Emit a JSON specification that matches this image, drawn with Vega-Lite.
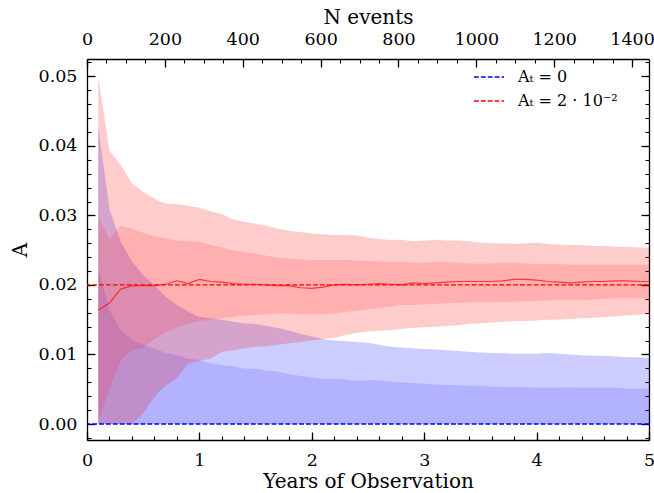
{
  "$schema": "https://vega.github.io/schema/vega-lite/v6.json",
  "width": 562,
  "height": 381,
  "autosize": {"type": "none"},
  "padding": {"left": 87, "top": 59, "right": 5, "bottom": 53},
  "background": "white",
  "config": {
    "view": {"stroke": null},
    "font": "DejaVu Serif",
    "axis": {"grid": false, "labelColor": "black", "titleColor": "black", "tickColor": "black", "domainColor": "black", "labelFont": "DejaVu Serif", "titleFont": "DejaVu Serif", "titleFontWeight": "normal", "labelFlush": false, "labelOverlap": false, "labelBound": false, "zindex": 1}
  },
  "datasets": {
    "bands": [
      {"t":0.1,"rou":0.0499,"riu":0.0298,"ril":0.0005,"rol":0,"bou":0.0427,"biu":0.0224,"rm":0.0164},
      {"t":0.2,"rou":0.0393,"riu":0.0266,"ril":0.0050,"rol":0,"bou":0.0309,"biu":0.0164,"rm":0.0174},
      {"t":0.3,"rou":0.0373,"riu":0.0285,"ril":0.0092,"rol":0,"bou":0.0262,"biu":0.0135,"rm":0.0194},
      {"t":0.4,"rou":0.0346,"riu":0.0281,"ril":0.0106,"rol":0,"bou":0.0234,"biu":0.0121,"rm":0.0199},
      {"t":0.5,"rou":0.0334,"riu":0.0275,"ril":0.0110,"rol":0.0015,"bou":0.0214,"biu":0.0114,"rm":0.0199},
      {"t":0.6,"rou":0.0324,"riu":0.0270,"ril":0.0122,"rol":0.0039,"bou":0.0200,"biu":0.0109,"rm":0.0199},
      {"t":0.7,"rou":0.0317,"riu":0.0267,"ril":0.0132,"rol":0.0055,"bou":0.0183,"biu":0.0102,"rm":0.0201},
      {"t":0.8,"rou":0.0316,"riu":0.0264,"ril":0.0139,"rol":0.0066,"bou":0.0171,"biu":0.0099,"rm":0.0206},
      {"t":0.9,"rou":0.0314,"riu":0.0263,"ril":0.0144,"rol":0.0087,"bou":0.0162,"biu":0.0094,"rm":0.0202},
      {"t":1.0,"rou":0.0311,"riu":0.0262,"ril":0.0148,"rol":0.0091,"bou":0.0154,"biu":0.0092,"rm":0.0208},
      {"t":1.1,"rou":0.0306,"riu":0.0258,"ril":0.0150,"rol":0.0094,"bou":0.0152,"biu":0.0087,"rm":0.0205},
      {"t":1.2,"rou":0.0302,"riu":0.0254,"ril":0.0152,"rol":0.0104,"bou":0.0150,"biu":0.0085,"rm":0.0204},
      {"t":1.3,"rou":0.0294,"riu":0.0250,"ril":0.0154,"rol":0.0106,"bou":0.0147,"biu":0.0083,"rm":0.0202},
      {"t":1.4,"rou":0.0291,"riu":0.0247,"ril":0.0156,"rol":0.0109,"bou":0.0145,"biu":0.0080,"rm":0.0201},
      {"t":1.5,"rou":0.0288,"riu":0.0245,"ril":0.0157,"rol":0.0111,"bou":0.0144,"biu":0.0079,"rm":0.0201},
      {"t":1.6,"rou":0.0285,"riu":0.0242,"ril":0.0158,"rol":0.0112,"bou":0.0141,"biu":0.0077,"rm":0.0200},
      {"t":1.7,"rou":0.0281,"riu":0.0239,"ril":0.0159,"rol":0.0114,"bou":0.0138,"biu":0.0075,"rm":0.0199},
      {"t":1.8,"rou":0.0278,"riu":0.0238,"ril":0.0159,"rol":0.0116,"bou":0.0134,"biu":0.0072,"rm":0.0199},
      {"t":1.9,"rou":0.0276,"riu":0.0237,"ril":0.0158,"rol":0.0118,"bou":0.0130,"biu":0.0069,"rm":0.0196},
      {"t":2.0,"rou":0.0274,"riu":0.0236,"ril":0.0158,"rol":0.0120,"bou":0.0126,"biu":0.0067,"rm":0.0195},
      {"t":2.1,"rou":0.0273,"riu":0.0236,"ril":0.0158,"rol":0.0122,"bou":0.0122,"biu":0.0065,"rm":0.0197},
      {"t":2.2,"rou":0.0272,"riu":0.0236,"ril":0.0159,"rol":0.0124,"bou":0.0120,"biu":0.0065,"rm":0.0200},
      {"t":2.3,"rou":0.0272,"riu":0.0236,"ril":0.0161,"rol":0.0128,"bou":0.0119,"biu":0.0064,"rm":0.0201},
      {"t":2.4,"rou":0.0271,"riu":0.0235,"ril":0.0163,"rol":0.0131,"bou":0.0118,"biu":0.0062,"rm":0.0200},
      {"t":2.5,"rou":0.0268,"riu":0.0234,"ril":0.0165,"rol":0.0133,"bou":0.0117,"biu":0.0063,"rm":0.0201},
      {"t":2.6,"rou":0.0266,"riu":0.0234,"ril":0.0167,"rol":0.0134,"bou":0.0114,"biu":0.0063,"rm":0.0202},
      {"t":2.7,"rou":0.0265,"riu":0.0233,"ril":0.0169,"rol":0.0135,"bou":0.0111,"biu":0.0061,"rm":0.0201},
      {"t":2.8,"rou":0.0265,"riu":0.0233,"ril":0.0171,"rol":0.0137,"bou":0.0110,"biu":0.0060,"rm":0.0200},
      {"t":2.9,"rou":0.0263,"riu":0.0232,"ril":0.0171,"rol":0.0138,"bou":0.0109,"biu":0.0059,"rm":0.0203},
      {"t":3.0,"rou":0.0264,"riu":0.0232,"ril":0.0172,"rol":0.0139,"bou":0.0108,"biu":0.0058,"rm":0.0202},
      {"t":3.1,"rou":0.0265,"riu":0.0233,"ril":0.0173,"rol":0.0140,"bou":0.0107,"biu":0.0057,"rm":0.0203},
      {"t":3.2,"rou":0.0264,"riu":0.0233,"ril":0.0174,"rol":0.0141,"bou":0.0106,"biu":0.0056,"rm":0.0204},
      {"t":3.3,"rou":0.0264,"riu":0.0232,"ril":0.0174,"rol":0.0142,"bou":0.0105,"biu":0.0056,"rm":0.0205},
      {"t":3.4,"rou":0.0263,"riu":0.0231,"ril":0.0175,"rol":0.0144,"bou":0.0104,"biu":0.0055,"rm":0.0205},
      {"t":3.5,"rou":0.0261,"riu":0.0231,"ril":0.0175,"rol":0.0145,"bou":0.0103,"biu":0.0055,"rm":0.0205},
      {"t":3.6,"rou":0.0260,"riu":0.0231,"ril":0.0175,"rol":0.0146,"bou":0.0102,"biu":0.0054,"rm":0.0205},
      {"t":3.7,"rou":0.0260,"riu":0.0232,"ril":0.0176,"rol":0.0147,"bou":0.0102,"biu":0.0053,"rm":0.0206},
      {"t":3.8,"rou":0.0259,"riu":0.0232,"ril":0.0176,"rol":0.0148,"bou":0.0101,"biu":0.0053,"rm":0.0208},
      {"t":3.9,"rou":0.0260,"riu":0.0231,"ril":0.0177,"rol":0.0148,"bou":0.0101,"biu":0.0053,"rm":0.0208},
      {"t":4.0,"rou":0.0261,"riu":0.0230,"ril":0.0177,"rol":0.0149,"bou":0.0101,"biu":0.0052,"rm":0.0207},
      {"t":4.1,"rou":0.0259,"riu":0.0230,"ril":0.0178,"rol":0.0150,"bou":0.0102,"biu":0.0052,"rm":0.0205},
      {"t":4.2,"rou":0.0258,"riu":0.0230,"ril":0.0178,"rol":0.0150,"bou":0.0101,"biu":0.0052,"rm":0.0204},
      {"t":4.3,"rou":0.0258,"riu":0.0229,"ril":0.0178,"rol":0.0151,"bou":0.0100,"biu":0.0053,"rm":0.0203},
      {"t":4.4,"rou":0.0257,"riu":0.0229,"ril":0.0178,"rol":0.0152,"bou":0.0099,"biu":0.0052,"rm":0.0204},
      {"t":4.5,"rou":0.0256,"riu":0.0229,"ril":0.0179,"rol":0.0153,"bou":0.0098,"biu":0.0052,"rm":0.0205},
      {"t":4.6,"rou":0.0256,"riu":0.0229,"ril":0.0180,"rol":0.0154,"bou":0.0098,"biu":0.0052,"rm":0.0205},
      {"t":4.7,"rou":0.0255,"riu":0.0229,"ril":0.0181,"rol":0.0155,"bou":0.0097,"biu":0.0052,"rm":0.0206},
      {"t":4.8,"rou":0.0255,"riu":0.0229,"ril":0.0181,"rol":0.0156,"bou":0.0096,"biu":0.0051,"rm":0.0206},
      {"t":4.9,"rou":0.0254,"riu":0.0229,"ril":0.0181,"rol":0.0157,"bou":0.0096,"biu":0.0051,"rm":0.0205},
      {"t":5.0,"rou":0.0254,"riu":0.0229,"ril":0.0181,"rol":0.0158,"bou":0.0095,"biu":0.0051,"rm":0.0205}
    ],
    "refs": [
      {"label": "Aₜ = 0", "value": 0},
      {"label": "Aₜ = 2 · 10⁻²", "value": 0.02}
    ]
  },
  "resolve": {"axis": {"x": "independent", "y": "independent"}},
  "layer": [
    {
      "data": {"name": "bands"},
      "mark": {"type": "area", "color": "#0000ff", "opacity": 0.2},
      "encoding": {
        "x": {"field": "t", "type": "quantitative", "scale": {"domain": [0, 5], "nice": false, "zero": false},
          "axis": {"orient": "bottom", "values": [0, 1, 2, 3, 4, 5], "format": "d", "tickSize": -8, "tickWidth": 1.3, "labelPadding": 19, "labelFontSize": 17.5, "domain": true, "domainWidth": 1.3, "title": "Years of Observation", "titleFontSize": 20, "titlePadding": 3}},
        "y": {"field": "bou", "type": "quantitative", "scale": {"domain": [-0.0023, 0.0525], "nice": false, "zero": false},
          "axis": {"orient": "left", "values": [0, 0.01, 0.02, 0.03, 0.04, 0.05], "format": ".2f", "tickSize": -8, "tickWidth": 1.3, "labelPadding": 18, "labelFontSize": 17.5, "domain": true, "domainWidth": 1.3, "title": "A", "titleFontSize": 20, "titlePadding": 8}},
        "y2": {"datum": 0}
      }
    },
    {
      "data": {"name": "bands"},
      "mark": {"type": "area", "color": "#0000ff", "opacity": 0.125},
      "encoding": {
        "x": {"field": "t", "type": "quantitative",
          "axis": {"orient": "bottom", "values": [0, 0.2, 0.4, 0.6, 0.8, 1, 1.2, 1.4, 1.6, 1.8, 2, 2.2, 2.4, 2.6, 2.8, 3, 3.2, 3.4, 3.6, 3.8, 4, 4.2, 4.4, 4.6, 4.8, 5], "labels": false, "tickSize": -4, "tickWidth": 1.1, "domain": false, "title": null}},
        "y": {"field": "biu", "type": "quantitative",
          "axis": {"orient": "left", "values": [-0.002, 0, 0.002, 0.004, 0.006, 0.008, 0.01, 0.012, 0.014, 0.016, 0.018, 0.02, 0.022, 0.024, 0.026, 0.028, 0.03, 0.032, 0.034, 0.036, 0.038, 0.04, 0.042, 0.044, 0.046, 0.048, 0.05, 0.052], "labels": false, "tickSize": -4, "tickWidth": 1.1, "domain": false, "title": null}},
        "y2": {"datum": 0}
      }
    },
    {
      "data": {"name": "bands"},
      "mark": {"type": "area", "color": "#ff0000", "opacity": 0.2},
      "encoding": {
        "x": {"field": "t", "type": "quantitative",
          "axis": {"orient": "top", "values": [0, 0.692761, 1.385521, 2.078282, 2.771043, 3.463803, 4.156564, 4.849325], "labelExpr": "format(round(datum.value * 288.7), 'd')", "tickSize": -8, "tickWidth": 1.3, "labelPadding": 19, "labelFontSize": 17.5, "domain": true, "domainWidth": 1.3, "title": "N events", "titleFontSize": 20, "titlePadding": 3}},
        "y": {"field": "rou", "type": "quantitative",
          "axis": {"orient": "right", "values": [0, 0.01, 0.02, 0.03, 0.04, 0.05], "labels": false, "tickSize": -8, "tickWidth": 1.3, "domain": true, "domainWidth": 1.3, "title": null}},
        "y2": {"field": "rol"}
      }
    },
    {
      "data": {"name": "bands"},
      "mark": {"type": "area", "color": "#ff0000", "opacity": 0.14},
      "encoding": {
        "x": {"field": "t", "type": "quantitative",
          "axis": {"orient": "top", "values": [0, 0.17319, 0.34638, 0.51957, 0.69276, 0.86595, 1.03914, 1.21233, 1.38552, 1.55871, 1.7319, 1.90509, 2.07828, 2.25147, 2.42466, 2.59785, 2.77104, 2.94423, 3.11742, 3.29061, 3.4638, 3.63699, 3.81018, 3.98337, 4.15656, 4.32975, 4.50294, 4.67613, 4.84932], "labels": false, "tickSize": -4, "tickWidth": 1.1, "domain": false, "title": null}},
        "y": {"field": "riu", "type": "quantitative",
          "axis": {"orient": "right", "values": [-0.002, 0, 0.002, 0.004, 0.006, 0.008, 0.01, 0.012, 0.014, 0.016, 0.018, 0.02, 0.022, 0.024, 0.026, 0.028, 0.03, 0.032, 0.034, 0.036, 0.038, 0.04, 0.042, 0.044, 0.046, 0.048, 0.05, 0.052], "labels": false, "tickSize": -4, "tickWidth": 1.1, "domain": false, "title": null}},
        "y2": {"field": "ril"}
      }
    },
    {
      "data": {"name": "bands"},
      "mark": {"type": "line", "color": "#ff2020", "strokeWidth": 1.2, "opacity": 0.85},
      "encoding": {
        "x": {"field": "t", "type": "quantitative", "axis": null},
        "y": {"field": "rm", "type": "quantitative", "axis": null}
      }
    },
    {
      "data": {"name": "refs"},
      "mark": {"type": "rule", "strokeWidth": 1.3, "strokeDash": [4.8, 2.1]},
      "encoding": {
        "y": {"field": "value", "type": "quantitative", "axis": null},
        "color": {"field": "label", "type": "nominal", "sort": null,
          "scale": {"domain": ["Aₜ = 0", "Aₜ = 2 · 10⁻²"], "range": ["#0000ff", "#ff0000"]},
          "legend": {"title": null, "orient": "none", "legendX": 386, "legendY": 2, "symbolType": "stroke", "symbolSize": 900, "symbolStrokeWidth": 1.3, "symbolDash": [4.8, 2.1], "labelFontSize": 16, "labelFont": "DejaVu Serif", "labelColor": "black", "labelOffset": 13, "rowPadding": -6, "padding": 0}}
      }
    }
  ]
}
